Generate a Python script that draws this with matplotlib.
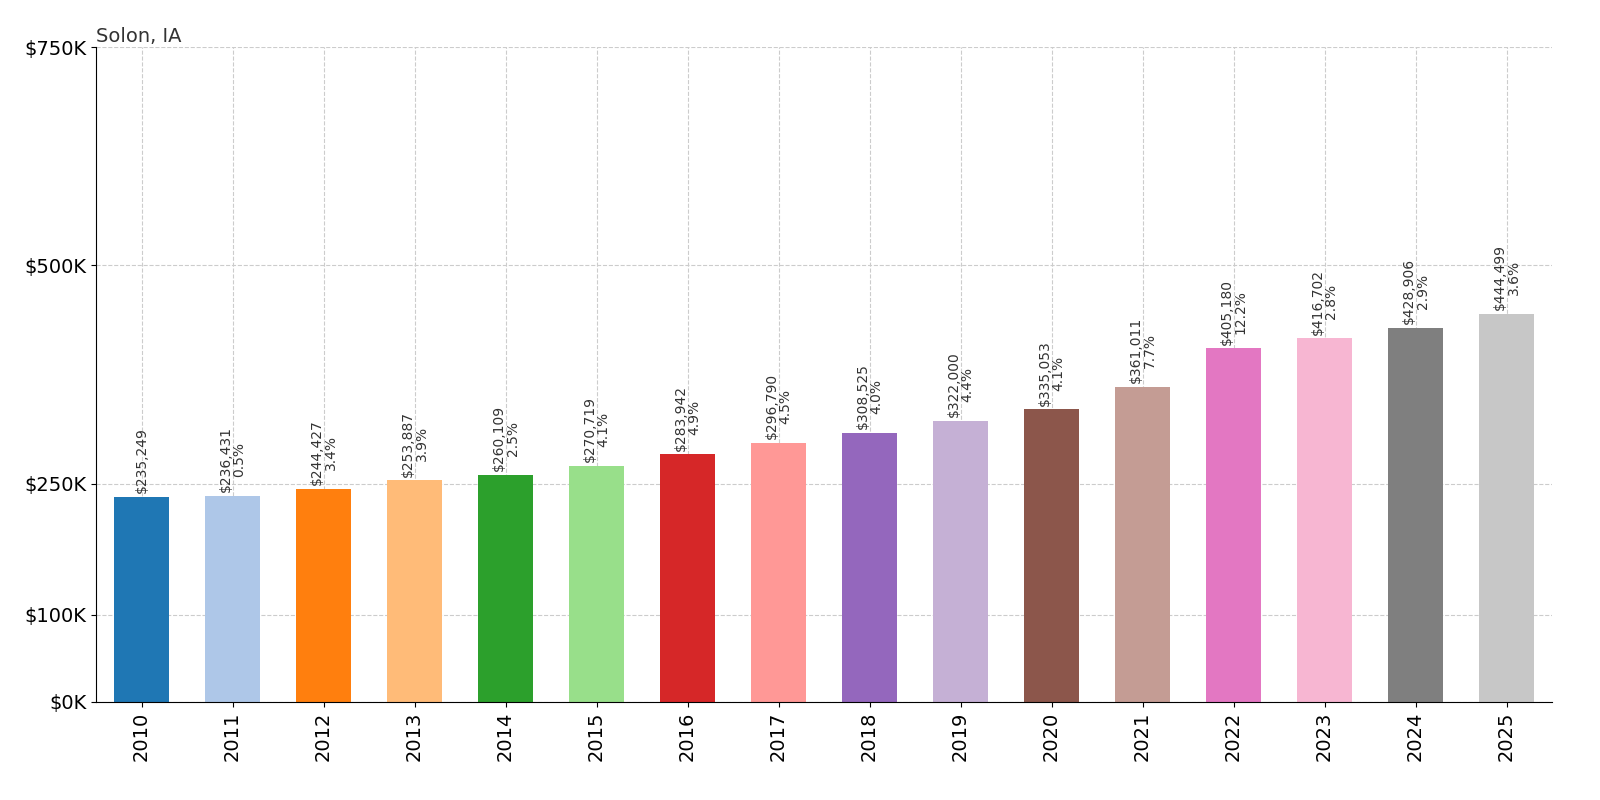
import matplotlib
matplotlib.use("Agg")
import matplotlib.pyplot as plt

years = [str(y) for y in range(2010, 2026)]
values = [235249, 236431, 244427, 253887, 260109, 270719, 283942, 296790,
          308525, 322000, 335053, 361011, 405180, 416702, 428906, 444499]
changes = [None, "0.5%", "3.4%", "3.9%", "2.5%", "4.1%", "4.9%", "4.5%",
           "4.0%", "4.4%", "4.1%", "7.7%", "12.2%", "2.8%", "2.9%", "3.6%"]
y_ticks = [0, 100000, 250000, 500000, 750000]
y_tick_labels = ["$0K", "$100K", "$250K", "$500K", "$750K"]

colors = plt.get_cmap("tab20").colors

fig = plt.figure(figsize=(16, 8), dpi=100)
ax = fig.add_axes([0.06, 0.1225, 0.91, 0.8185])
x = range(len(years))
ax.bar(x, values, width=0.6, color=[colors[i % 20] for i in x], zorder=2)

for i, v in enumerate(values):
    txt = f"${v:,}" if changes[i] is None else f"${v:,}\n{changes[i]}"
    ax.text(i, v + 4000, txt, rotation=90, ha="center", va="bottom",
            fontsize=10, color="#333333", linespacing=1.0)

ax.set_xlim(-0.5, len(years) - 0.5)
ax.set_ylim(0, 750000)
ax.set_yticks(y_ticks)
ax.set_yticklabels(y_tick_labels, fontsize=14)
ax.set_xticks(list(x))
ax.set_xticklabels(years, rotation=90, fontsize=14)
ax.grid(True, linestyle="--", color="#cccccc", linewidth=0.8, zorder=0)
ax.spines["top"].set_visible(False)
ax.spines["right"].set_visible(False)
ax.set_title("Solon, IA", loc="left", fontsize=14, color="#333333", pad=4)

fig.savefig("out.png")
